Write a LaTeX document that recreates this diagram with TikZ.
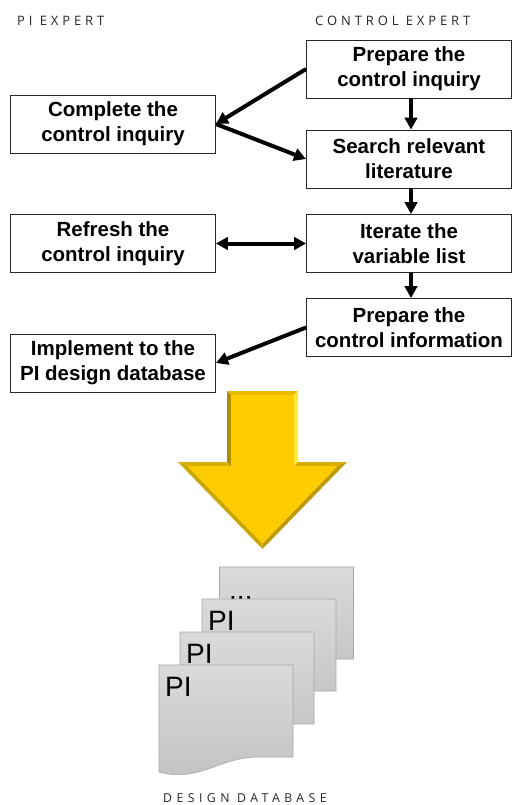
\documentclass[tikz,border=0pt]{standalone}
\usepackage{fontspec}
\setmainfont{Liberation Sans}
\newfontfamily\hdrfont[LetterSpace=30]{Open Sans}
\newfontfamily\dbfont[LetterSpace=36]{Open Sans}
\usetikzlibrary{arrows.meta,calc}
\definecolor{docTop}{HTML}{DADADA}
\definecolor{docBot}{HTML}{C2C2C2}
\definecolor{docEdge}{HTML}{A8A8A8}
\definecolor{goldMain}{HTML}{FFCC00}
\definecolor{goldTop}{HTML}{E8BA00}
\definecolor{goldLight}{HTML}{FFEA3A}
\definecolor{goldShoulder}{HTML}{D9AE00}
\definecolor{goldDarkA}{HTML}{BE9A08}
\definecolor{goldDarkB}{HTML}{CCA600}
\definecolor{goldDarkC}{HTML}{B08E00}
\newcommand\docpage[3]{%
  \path[draw=docEdge,line width=0.6pt,top color=docTop,bottom color=docBot]
    (#1,#2) -- ({#1+134},#2) -- ({#1+134},{#2+92}) -- ({#1+100},{#2+92})
    .. controls ({#1+60},{#2+92}) and ({#1+40},{#2+118}) .. (#1,{#2+107}) -- cycle;
  \node[anchor=base west,inner sep=0pt,font=\fontsize{28}{30}\selectfont] (#3) at ({#1+6},{#2+31.7}) {PI};
}
\tikzset{
  stepbox/.style={draw=black!85,line width=0.9pt,fill=white,minimum width=205pt,minimum height=58pt,
    align=center,inner sep=0pt,font=\fontsize{20.5}{25}\selectfont\bfseries},
  flow/.style={line width=4pt,-{Triangle[length=12pt,width=12.5pt]}},
  flowboth/.style={line width=4pt,{Triangle[length=12pt,width=12.5pt]}-{Triangle[length=12pt,width=12.5pt]}},
  hdr/.style={anchor=base west,inner sep=0pt,font=\hdrfont\fontsize{13}{15}\selectfont,text=black!85},
}
\begin{document}
\begin{tikzpicture}[x=1pt,y=-1pt]
\useasboundingbox (0,0) rectangle (512,805);

\node[hdr] (hpi) at (17,26) {PI EXPERT};
\node[hdr] (hce) at (315,26) {CONTROL EXPERT};

\node[stepbox] (prepI) at (409,69) {Prepare the\\control inquiry};
\node[stepbox] (compl) at (113,124) {Complete the\\control inquiry};
\node[stepbox] (search) at (409,159) {Search relevant\\literature};
\node[stepbox] (refresh) at (113,243.5) {Refresh the\\control inquiry};
\node[stepbox] (iter) at (409,243.5) {Iterate the\\variable list};
\node[stepbox] (prepInfo) at (409,327.5) {Prepare the\\control information};
\node[stepbox] (impl) at (113,363) {Implement to the\\PI design database};

\draw[flow] (prepI.west) -- (compl.east);
\draw[flow] (compl.east) -- (search.west);
\draw[flow] ([xshift=2pt]prepI.south) -- ([xshift=2pt]search.north);
\draw[flow] ([xshift=2pt]search.south) -- ([xshift=2pt]iter.north);
\draw[flowboth] (refresh.east) -- (iter.west);
\draw[flow] ([xshift=2pt]iter.south) -- ([xshift=2pt]prepInfo.north);
\draw[flow] (prepInfo.west) -- (impl.east);

% big yellow arrow with bevel
\coordinate (O1) at (227,391); \coordinate (O2) at (298,391);
\coordinate (O3) at (298,462); \coordinate (O4) at (347,462);
\coordinate (O5) at (262.5,549); \coordinate (O6) at (178,462);
\coordinate (O7) at (227,462);
\coordinate (I1) at (231,395); \coordinate (I2) at (294,395);
\coordinate (I3) at (294,466); \coordinate (I4) at (337.5,466);
\coordinate (I5) at (262.5,543.5); \coordinate (I6) at (187.5,466);
\coordinate (I7) at (231,466);
\fill[goldTop] (O1) -- (O2) -- (I2) -- (I1) -- cycle;
\fill[goldLight] (O2) -- (O3) -- (I3) -- (I2) -- cycle;
\fill[goldShoulder] (O3) -- (O4) -- (I4) -- (I3) -- cycle;
\fill[goldDarkA] (O4) -- (O5) -- (I5) -- (I4) -- cycle;
\fill[goldDarkB] (O5) -- (O6) -- (I6) -- (I5) -- cycle;
\fill[goldShoulder] (O6) -- (O7) -- (I7) -- (I6) -- cycle;
\fill[goldDarkC] (O7) -- (O1) -- (I1) -- (I7) -- cycle;
\fill[goldMain] (I1) -- (I2) -- (I3) -- (I4) -- (I5) -- (I6) -- (I7) -- cycle;

% stacked documents
\path[draw=docEdge,line width=0.6pt,top color=docTop,bottom color=docBot]
  (219.5,567) -- (353.5,567) -- (353.5,659) -- (319.5,659)
  .. controls (279.5,659) and (259.5,685) .. (219.5,674) -- cycle;
\node[anchor=base west,inner sep=0pt,font=\fontsize{28}{30}\selectfont] (dots) at (229,599) {...};
\docpage{202}{599}{pi3}
\docpage{180}{632}{pi2}
\docpage{159}{665}{pi1}

\node[anchor=base west,inner sep=0pt,font=\dbfont\fontsize{12.3}{14}\selectfont,text=black!85] (dbl) at (163,802) {DESIGN DATABASE};
\end{tikzpicture}
\end{document}
